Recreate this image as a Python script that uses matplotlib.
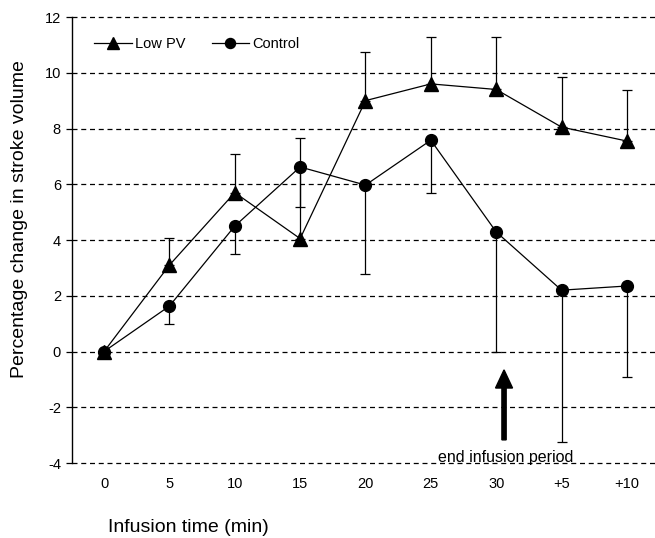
import matplotlib
matplotlib.use("Agg")
import matplotlib.pyplot as plt
import matplotlib.transforms as mtransforms

plt.rcParams['font.family'] = ['Liberation Sans', 'DejaVu Sans']

times = ['0', '5', '10', '15', '20', '25', '30', '+5', '+10']

low_pv = [0.0, 3.1, 5.7, 4.05, 9.0, 9.6, 9.4, 8.05, 7.55]
low_pv_err_up = [0.0, 0.97, 1.38, 3.6, 1.75, 1.68, 1.88, 1.8, 1.83]

control = [0.0, 1.63, 4.5, 6.62, 5.97, 7.58, 4.29, 2.2, 2.35]
control_err_down = [0.0, 0.63, 1.02, 1.42, 3.19, 1.89, 4.29, 5.45, 3.28]

y_ticks = [-4, -2, 0, 2, 4, 6, 8, 10, 12]

fig = plt.figure(figsize=(6.55, 5.38), dpi=100)
ax = fig.add_axes([0.110, 0.1394, 0.890, 0.829])

x = list(range(len(times)))
zeros = [0.0] * len(times)

# dashed horizontal grid
for yv in y_ticks:
    ax.axhline(yv, color='black', lw=0.9, ls=(0, (4, 3)), zorder=1, clip_on=False)

ax.errorbar(x, low_pv, yerr=[zeros, low_pv_err_up], fmt='none', ecolor='black',
            elinewidth=0.9, capsize=3.5, capthick=0.9, zorder=2)
ax.errorbar(x, control, yerr=[control_err_down, zeros], fmt='none', ecolor='black',
            elinewidth=0.9, capsize=3.5, capthick=0.9, zorder=2)

ax.plot(x, low_pv, color='black', lw=0.9, marker='^', markersize=10,
        label='Low PV', zorder=3)
ax.plot(x, control, color='black', lw=0.9, marker='o', markersize=8.5,
        label='Control', zorder=3)

# end of infusion arrow
ax.arrow(6.12, -3.17, 0, 2.51, width=0.065, head_width=0.26, head_length=0.65,
         length_includes_head=True, color='black', zorder=3)
ax.text(6.14, -3.8, 'end infusion period', ha='center', va='center', fontsize=11.5)

ax.set_xlim(-0.49, 8.43)
ax.set_ylim(-4, 12)
ax.set_yticks(y_ticks)
ax.set_yticklabels([str(v) for v in y_ticks], fontsize=10.5)
ax.set_xticks(x)
ax.set_xticklabels(times, fontsize=10.5)
offset = mtransforms.ScaledTranslation(6 / 100, 0, fig.dpi_scale_trans)
for lbl in ax.get_xticklabels():
    lbl.set_transform(lbl.get_transform() + offset)

ax.tick_params(axis='x', length=0, pad=10)
ax.tick_params(axis='y', direction='out', length=4, width=0.9, pad=4)

for side in ['top', 'right', 'bottom']:
    ax.spines[side].set_visible(False)
ax.spines['left'].set_linewidth(1.0)

ax.set_ylabel('Percentage change in stroke volume', fontsize=14, labelpad=6)
ax.yaxis.set_label_coords(-0.075, 0.547)
fig.text(188 / 655, 1 - 527 / 538, 'Infusion time (min)', ha='center', va='center',
         fontsize=14)

ax.legend(loc='upper left', bbox_to_anchor=(0.015, 0.985), ncol=2, frameon=False,
          fontsize=10.5, handlelength=2.6, columnspacing=1.8, handletextpad=0.2,
          markerscale=0.85)

fig.savefig('out.png', dpi=100)
